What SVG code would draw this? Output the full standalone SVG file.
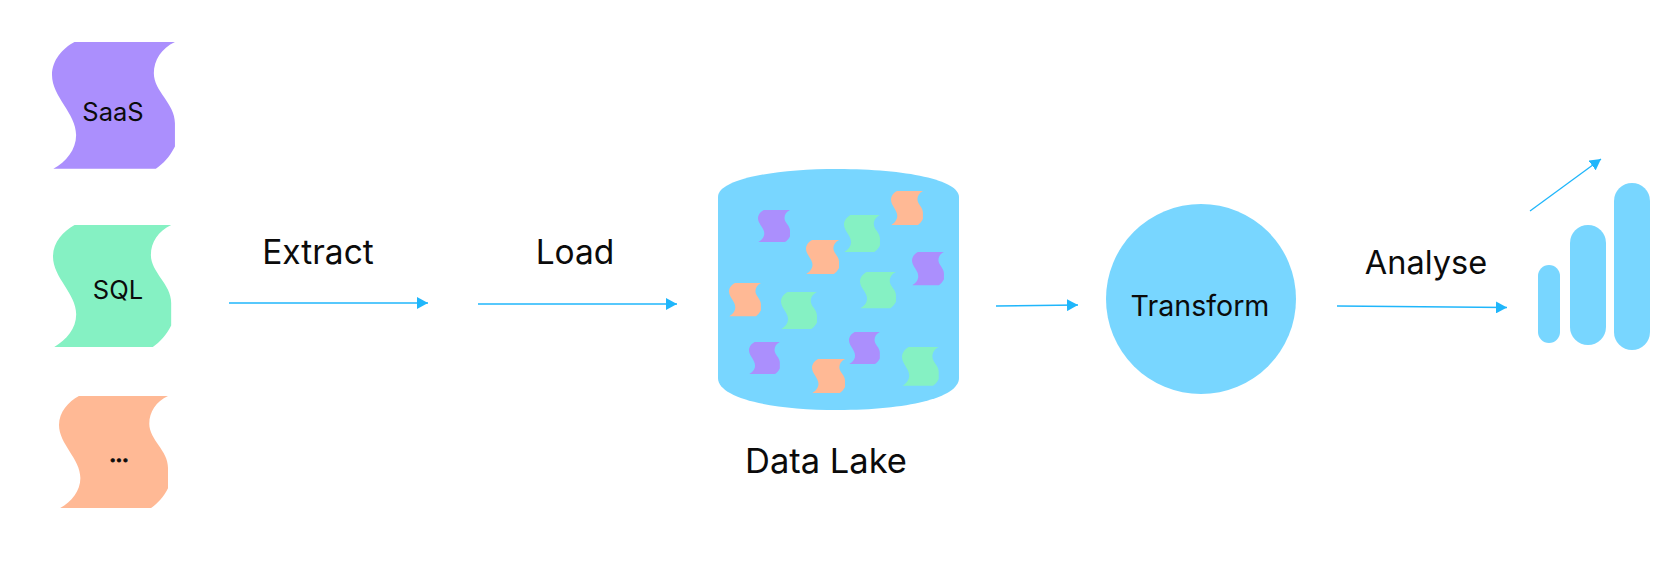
<svg xmlns="http://www.w3.org/2000/svg" width="1672" height="583" viewBox="0 0 1672 583">
<style>
text{font-family:"Inter","Liberation Sans",sans-serif;fill:#0b0b0b;text-anchor:middle}
.lg{font-size:33.500px}
.md{font-size:28.600px}
.sm{font-size:25.500px}
.p{fill:#ab8ffd}.g{fill:#85f1c3}.o{fill:#ffb995}
.b{fill:#78d6ff}
.c{fill:none;stroke:#1fb6fb;stroke-width:1.3;marker-end:url(#a)}
</style>
<defs>
<marker id="a" markerUnits="userSpaceOnUse" markerWidth="12" markerHeight="12" refX="11" refY="6" orient="auto"><path d="M0 0L11 6L0 12Z" fill="#1fb6fb"/></marker>
<path id="w" d="M67 0H367C327 19 304 54 304 94C304 149 367 184 367 244V314C352 344 332 366 310 381H4C42 359 72 324 72 279C72 214 0 164 0 99C0 54 32 19 67 0Z"/>
</defs>
<rect width="1672" height="583" fill="#fff"/>
<g id="source-saas"><use href="#w" class="p" transform="translate(52 42) scale(.335 .333)"/><text x="113" y="121" class="sm">SaaS</text></g>
<g id="source-sql"><use href="#w" class="g" transform="translate(53 225) scale(.322 .32)"/><text x="118" y="299" class="sm">SQL</text></g>
<g id="source-other"><use href="#w" class="o" transform="translate(59 396) scale(.297 .294)"/><text x="119" y="462" font-size="17" font-weight="900" stroke="#0b0b0b" stroke-width=".8">...</text></g>
<g id="data-lake">
<path class="b" d="M718 197C718 180 770 169 838 169C906 169 959 180 959 197V378C959 398 906 410 838 410C770 410 718 398 718 378Z"/>
<use href="#w" class="p" transform="translate(758 210) scale(.0872 .084)"/>
<use href="#w" class="o" transform="translate(806 240) scale(.09 .089)"/>
<use href="#w" class="g" transform="translate(844 215) scale(.098 .097)"/>
<use href="#w" class="o" transform="translate(891 191) scale(.087 .089)"/>
<use href="#w" class="p" transform="translate(912 252) scale(.087 .087)"/>
<use href="#w" class="o" transform="translate(729 283) scale(.087 .087)"/>
<use href="#w" class="g" transform="translate(781 292) scale(.098 .097)"/>
<use href="#w" class="g" transform="translate(860 272) scale(.098 .095)"/>
<use href="#w" class="p" transform="translate(749 342) scale(.084 .084)"/>
<use href="#w" class="p" transform="translate(849 332) scale(.084 .084)"/>
<use href="#w" class="o" transform="translate(812 359) scale(.09 .089)"/>
<use href="#w" class="g" transform="translate(902 347) scale(.1 .102)"/>
<text x="826" y="473" font-size="34.500">Data Lake</text>
</g>
<g id="transform"><circle class="b" cx="1201" cy="299" r="95"/><text x="1200" y="316" class="md">Transform</text></g>
<g id="analysis-chart">
<rect class="b" x="1538" y="265" width="22" height="78" rx="11"/>
<rect class="b" x="1570" y="225" width="36" height="120" rx="18"/>
<rect class="b" x="1614" y="183" width="36" height="167" rx="18"/>
</g>
<g id="labels">
<text x="318" y="264" class="lg">Extract</text>
<text x="575" y="264" class="lg">Load</text>
<text x="1426" y="274" font-size="32.500">Analyse</text>
</g>
<g id="connectors">
<path class="c" d="M229 303H428"/>
<path class="c" d="M478 304H677"/>
<path class="c" d="M996 306L1078 305"/>
<path class="c" d="M1337 306L1507 307.500"/>
<path class="c" d="M1530 211L1601 159"/>
</g>
</svg>
